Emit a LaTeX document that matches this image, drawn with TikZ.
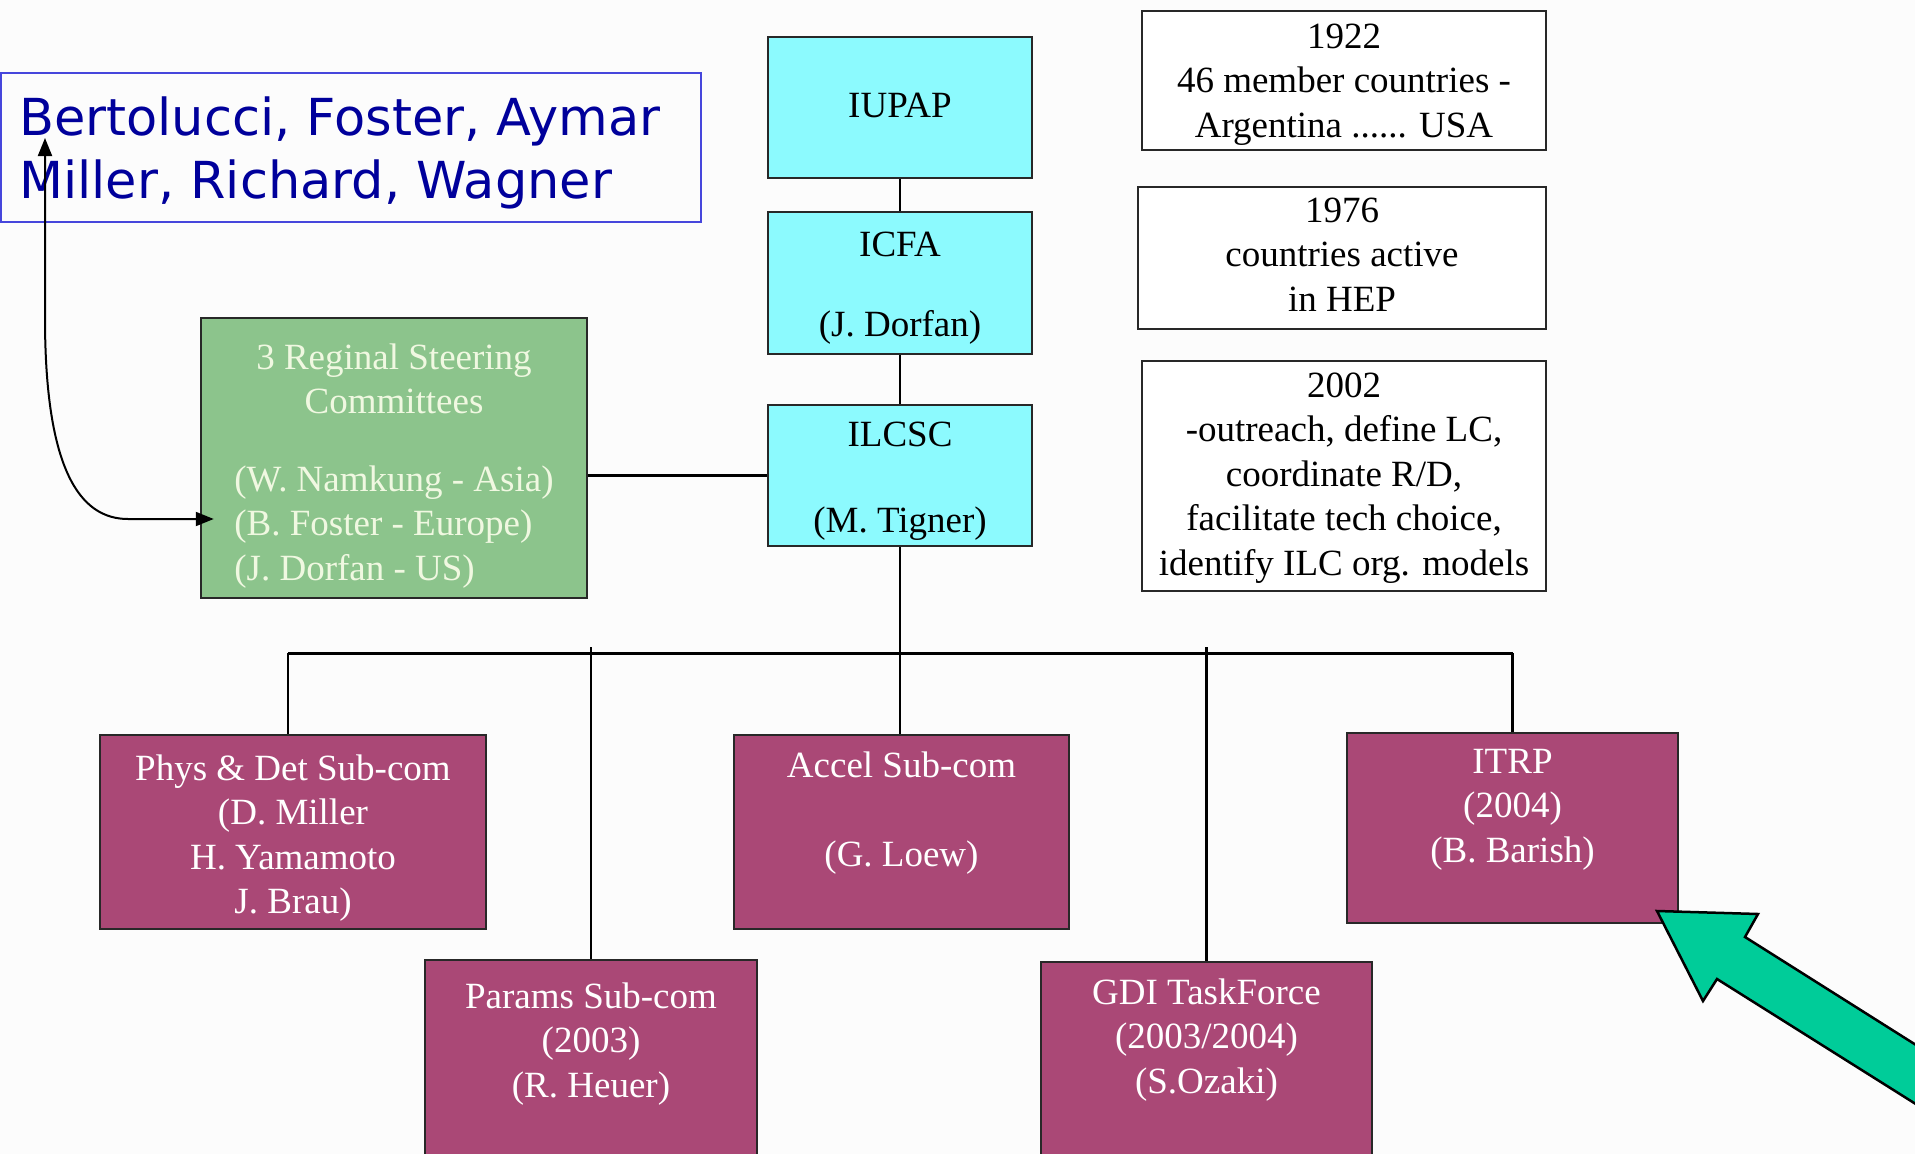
\documentclass[tikz,border=0pt]{standalone}
\usepackage{fontspec}
\setmainfont{Liberation Serif}
\newfontfamily\comicfont{DejaVu Sans}
\usetikzlibrary{arrows.meta}
\definecolor{cyanbox}{RGB}{140,250,254}
\definecolor{greenbox}{RGB}{140,196,140}
\definecolor{greentext}{RGB}{240,248,225}
\definecolor{magbox}{RGB}{170,72,118}
\definecolor{bluebord}{RGB}{70,70,220}
\definecolor{bluetext}{RGB}{0,0,155}
\definecolor{arrowgreen}{RGB}{0,204,153}
\definecolor{bg}{RGB}{252,252,252}
\definecolor{bord}{RGB}{40,40,40}
\begin{document}
\begin{tikzpicture}[x=1pt,y=-1pt,
  box/.style={draw=bord, line width=2.5pt, rectangle, inner sep=0pt},
  cbox/.style={box, fill=cyanbox},
  mbox/.style={box, fill=magbox},
  wbox/.style={box, fill=white},
  gbox/.style={box, fill=greenbox},
  txt/.style={font=\fontsize{37}{44.5}\selectfont, align=center, inner sep=0pt, anchor=base},
  wtxt/.style={txt, text=white},
  conn/.style={draw=black, line width=2.5pt},
  twoway/.style={line width=2pt, >={Triangle[length=18pt,width=14pt]}, <->}
]
\fill[bg] (0,0) rectangle (1915,1154);
\useasboundingbox (0,0) rectangle (1915,1154);

% blue names box
\node[draw=bluebord, line width=2pt, minimum width=700pt, minimum height=149pt, inner sep=0pt] (names) at (351,147.5) {};
\node[anchor=base west, font=\comicfont\fontsize{51}{63}\selectfont, text=bluetext, align=left, inner sep=0pt] (namestxt) at (19,198) {Bertolucci, Foster, Aymar\\Miller, Richard, Wagner};

% top column
\node[cbox, minimum width=264pt, minimum height=141pt] (iupap) at (900,107.5) {};
\node[txt] (iupapt) at (iupap.north |- 0,117) {IUPAP};
\node[cbox, minimum width=264pt, minimum height=142pt] (icfa) at (900,283) {};
\node[txt] (icfat) at (icfa.north |- 0,336) {ICFA\\[35.5pt](J. Dorfan)};
\node[cbox, minimum width=264pt, minimum height=141pt] (ilcsc) at (900,475.5) {};
\node[txt] (ilcsct) at (ilcsc.north |- 0,532) {ILCSC\\[41.5pt](M. Tigner)};

% info boxes
\node[wbox, minimum width=404pt, minimum height=139pt] (y1922) at (1344,80.5) {};
\node[txt] (y1922t) at (y1922.north |- 0,137) {1922\\46 member countries -\\Argentina ...... USA};
\node[wbox, minimum width=408pt, minimum height=142pt] (y1976) at (1342,258) {};
\node[txt] (y1976t) at (y1976.north |- 0,311) {1976\\countries active\\in HEP};
\node[wbox, minimum width=404pt, minimum height=230pt] (y2002) at (1344,476) {};
\node[txt] (y2002t) at (y2002.north |- 0,575) {2002\\-outreach, define LC,\\coordinate R/D,\\facilitate tech choice,\\identify ILC org. models};

% green box
\node[gbox, minimum width=386pt, minimum height=280pt] (green) at (394,458) {};
\node[txt, text=greentext] (greent1) at (green.north |- 0,413.5) {3 Reginal Steering\\Committees};
\node[txt, text=greentext, align=left] (greent2) at (green.north |- 0,580) {(W. Namkung - Asia)\\(B. Foster - Europe)\\(J. Dorfan - US)};

% sub-committees
\node[mbox, minimum width=386pt, minimum height=194pt] (phys) at (293,832) {};
\node[wtxt] (physt) at (phys.north |- 0,913.5) {Phys \& Det Sub-com\\(D. Miller\\H. Yamamoto\\J. Brau)};
\node[mbox, minimum width=335pt, minimum height=194pt] (accel) at (901.5,832) {};
\node[wtxt] (accelt) at (accel.north |- 0,866) {Accel Sub-com\\[44.5pt](G. Loew)};
\node[mbox, minimum width=331pt, minimum height=190pt] (itrp) at (1512.5,828) {};
\node[wtxt] (itrpt) at (itrp.north |- 0,862) {ITRP\\(2004)\\(B. Barish)};
\node[mbox, minimum width=332pt, minimum height=210pt] (params) at (591,1065) {};
\node[wtxt] (paramst) at (params.north |- 0,1097) {Params Sub-com\\(2003)\\(R. Heuer)};
\node[mbox, minimum width=331pt, minimum height=208pt] (gdi) at (1206.5,1066) {};
\node[wtxt] (gdit) at (gdi.north |- 0,1093) {GDI TaskForce\\(2003/2004)\\(S.Ozaki)};

% connectors
\draw[conn] (iupap) -- (icfa);
\draw[conn] (icfa) -- (ilcsc);
\draw[conn] (ilcsc.west) -- (ilcsc.west -| green.east);
\draw[conn] (ilcsc.south) -- (ilcsc.south |- accel.north);
\coordinate (busL) at ([xshift=-5pt]phys.north |- 0,653);
\coordinate (busR) at (itrp.north |- 0,653);
\draw[conn, line width=3pt] (busL) -- (busR);
\draw[conn] (busL) -- (busL |- phys.north);
\draw[conn] (busR) -- (itrp.north);
\draw[conn] (params.north |- 0,647) -- (params.north);
\draw[conn] (gdi.north |- 0,647) -- (gdi.north);

% curved double arrow
\coordinate (ctop) at (45,138);
\coordinate (cgreen) at ([xshift=14pt]green.west |- 0,519);
\draw[twoway] (ctop) -- (45,318) .. controls (45,470) and (80,519) .. (128,519) -- (cgreen);

% green block arrow
\begin{scope}
\clip (0,0) rectangle (1915,1154);
\draw[line width=2.5pt, fill=arrowgreen, line join=miter] (1657,911) -- (1758,914) -- (1745,937) -- (2000,1098) -- (2000,1157) -- (1717,979) -- (1703,1001) -- cycle;
\end{scope}
\end{tikzpicture}
\end{document}
